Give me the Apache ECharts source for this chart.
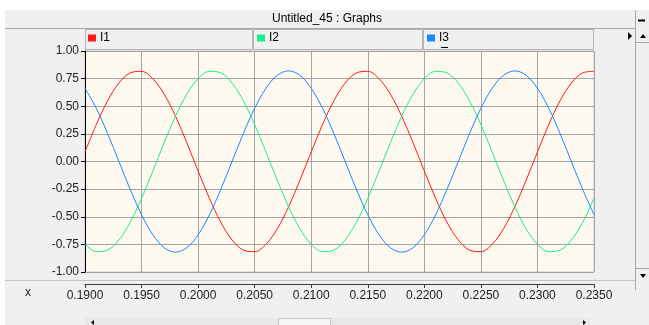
<!DOCTYPE html>
<html>
<head>
<meta charset="utf-8">
<script src="https://cdn.jsdelivr.net/npm/echarts@6/dist/echarts.min.js"></script>
<style>
html,body{margin:0;padding:0;background:#f0f0f0;}
#c{width:649px;height:325px;}
</style>
</head>
<body>
<div id="c"></div>
<script>
// ---- data ----
var titleText = 'Untitled_45 : Graphs';
var seriesNames = ['I1', 'I2', 'I3'];
var xValues = [0.190,0.191,0.192,0.193,0.194,0.195,0.196,0.197,0.198,0.199,
  0.200,0.201,0.202,0.203,0.204,0.205,0.206,0.207,0.208,0.209,
  0.210,0.211,0.212,0.213,0.214,0.215,0.216,0.217,0.218,0.219,
  0.220,0.221,0.222,0.223,0.224,0.225,0.226,0.227,0.228,0.229,
  0.230,0.231,0.232,0.233,0.234,0.235];
var i1 = [0.086,0.334,0.549,0.710,0.802,0.816,0.749,0.609,0.410,0.170,
  -0.086,-0.334,-0.549,-0.710,-0.802,-0.816,-0.749,-0.609,-0.410,-0.170,
  0.086,0.334,0.549,0.710,0.802,0.816,0.749,0.609,0.410,0.170,
  -0.086,-0.334,-0.549,-0.710,-0.802,-0.816,-0.749,-0.609,-0.410,-0.170,
  0.086,0.334,0.549,0.710,0.802,0.816];
var i2 = [-0.749,-0.816,-0.802,-0.710,-0.549,-0.334,-0.086,0.170,0.410,0.609,
  0.749,0.816,0.802,0.710,0.549,0.334,0.086,-0.170,-0.410,-0.609,
  -0.749,-0.816,-0.802,-0.710,-0.549,-0.334,-0.086,0.170,0.410,0.609,
  0.749,0.816,0.802,0.710,0.549,0.334,0.086,-0.170,-0.410,-0.609,
  -0.749,-0.816,-0.802,-0.710,-0.549,-0.334];
var i3 = [0.663,0.482,0.253,0.000,-0.253,-0.482,-0.663,-0.780,-0.820,-0.780,
  -0.663,-0.482,-0.253,0.000,0.253,0.482,0.663,0.780,0.820,0.780,
  0.663,0.482,0.253,0.000,-0.253,-0.482,-0.663,-0.780,-0.820,-0.780,
  -0.663,-0.482,-0.253,0.000,0.253,0.482,0.663,0.780,0.820,0.780,
  0.663,0.482,0.253,0.000,-0.253,-0.482];
var xMin = 0.190, xMax = 0.235, xStep = 0.005;
var yMin = -1, yMax = 1, yStep = 0.25;
var axisName = 'x';

// ---- chart ----
var FONT = '"Liberation Sans", Arial, sans-serif';
var colors = ['#ff1a1a', '#1af08a', '#1a88ff'];
function pairs(ys){ return xValues.map(function(x,i){ return [x, ys[i]]; }); }
var allData = [i1, i2, i3];

var chart = echarts.init(document.getElementById('c'), null, {renderer:'canvas'});
var legendLefts = [88, 257, 427];

var option = {
  backgroundColor: '#f0f0f0',
  animation: false,
  textStyle: {fontFamily: FONT},
  grid: {left: 85, right: 55, top: 51, height: 221, show: true,
         backgroundColor: '#fdf9ee', borderColor: '#c8c8c8', borderWidth: 1},
  legend: seriesNames.map(function(n, i){
    return {data: [n], left: legendLefts[i], top: 32, icon: 'rect',
      itemWidth: 8, itemHeight: 7, itemGap: 0, padding: 0,
      textStyle: {fontFamily: FONT, fontSize: 12, color: '#000', padding: [0,0,0,-1]},
      selectedMode: false};
  }),
  xAxis: {
    type: 'value', min: xMin, max: xMax, interval: xStep,
    position: 'bottom', offset: 12,
    axisLine: {show: true, onZero: false, lineStyle: {color: '#3a3a3a', width: 1}},
    axisTick: {show: true, length: 4, inside: false, lineStyle: {color: '#3a3a3a'}},
    axisLabel: {fontFamily: FONT, fontSize: 12, color: '#222', margin: 6,
      formatter: function(v){ return v.toFixed(4); }},
    splitLine: {show: true, lineStyle: {color: '#a4a4a4', width: 1}}
  },
  yAxis: {
    type: 'value', min: yMin, max: yMax, interval: yStep,
    axisLine: {show: true, onZero: false, lineStyle: {color: '#000', width: 1}},
    axisTick: {show: true, length: 4, lineStyle: {color: '#000'}},
    axisLabel: {fontFamily: FONT, fontSize: 12, color: '#222', margin: 6,
      formatter: function(v){ return v.toFixed(2); }},
    splitLine: {show: true, lineStyle: {color: '#a4a4a4', width: 1}}
  },
  series: seriesNames.map(function(n, i){
    return {name: n, type: 'line', data: pairs(allData[i]), smooth: 0.35,
      showSymbol: false, symbol: 'none', color: colors[i],
      lineStyle: {width: 1, color: colors[i]}};
  }),
  graphic: [
    // white outer frame
    {type:'rect', shape:{x:0,y:0,width:649,height:10}, style:{fill:'#ffffff'}, z:-10},
    {type:'rect', shape:{x:0,y:0,width:5,height:325}, style:{fill:'#ffffff'}, z:-10},
    // title bar
    {type:'line', shape:{x1:5,y1:28.5,x2:635,y2:28.5}, style:{stroke:'#a8a8a8',lineWidth:1}},
    {type:'text', x:327, y:19, style:{text:titleText, font:'12px '+FONT, fill:'#000', align:'center', verticalAlign:'middle'}},
    {type:'line', shape:{x1:635.5,y1:10,x2:635.5,y2:290}, style:{stroke:'#a8a8a8',lineWidth:1}},
    {type:'line', shape:{x1:638,y1:20.5,x2:645,y2:20.5}, style:{stroke:'#000',lineWidth:2}},
    // legend header cells
    {type:'rect', shape:{x:85.5,y:29.5,width:167,height:20}, style:{fill:'none',stroke:'#b4b4b4',lineWidth:1}},
    {type:'rect', shape:{x:253.5,y:29.5,width:169,height:20}, style:{fill:'none',stroke:'#b4b4b4',lineWidth:1}},
    {type:'rect', shape:{x:423.5,y:29.5,width:170,height:20}, style:{fill:'none',stroke:'#b4b4b4',lineWidth:1}},
    {type:'line', shape:{x1:441,y1:47.5,x2:448,y2:47.5}, style:{stroke:'#000',lineWidth:1}},
    // right arrow in header
    {type:'polygon', shape:{points:[[628,32],[632,36],[628,40]]}, style:{fill:'#000'}},
    // right scrollbar buttons
    {type:'polygon', shape:{points:[[640,38],[646,38],[643,34]]}, style:{fill:'#000'}},
    {type:'line', shape:{x1:636,y1:42.5,x2:649,y2:42.5}, style:{stroke:'#a8a8a8',lineWidth:1}},
    {type:'line', shape:{x1:636,y1:268.5,x2:649,y2:268.5}, style:{stroke:'#a8a8a8',lineWidth:1}},
    {type:'polygon', shape:{points:[[640,274],[646,274],[643,278]]}, style:{fill:'#000'}},
    // separator between plot and x axis panel
    {type:'line', shape:{x1:5,y1:280.5,x2:635,y2:280.5}, style:{stroke:'#c4c4c4',lineWidth:1}},
    {type:'text', x:28, y:293, style:{text:axisName, font:'12px '+FONT, fill:'#222', align:'center', verticalAlign:'middle'}},
    // bottom scrollbar
    {type:'rect', shape:{x:85,y:318,width:505,height:7}, style:{fill:'#e8e8e8'}},
    {type:'rect', shape:{x:278.5,y:318.5,width:52,height:7}, style:{fill:'#f6f6f6',stroke:'#c4c4c4',lineWidth:1}},
    {type:'polygon', shape:{points:[[94,320],[91,322.5],[94,325]]}, style:{fill:'#000'}},
    {type:'polygon', shape:{points:[[583,320],[586,322.5],[583,325]]}, style:{fill:'#000'}}
  ]
};
chart.setOption(option);
</script>
</body>
</html>
